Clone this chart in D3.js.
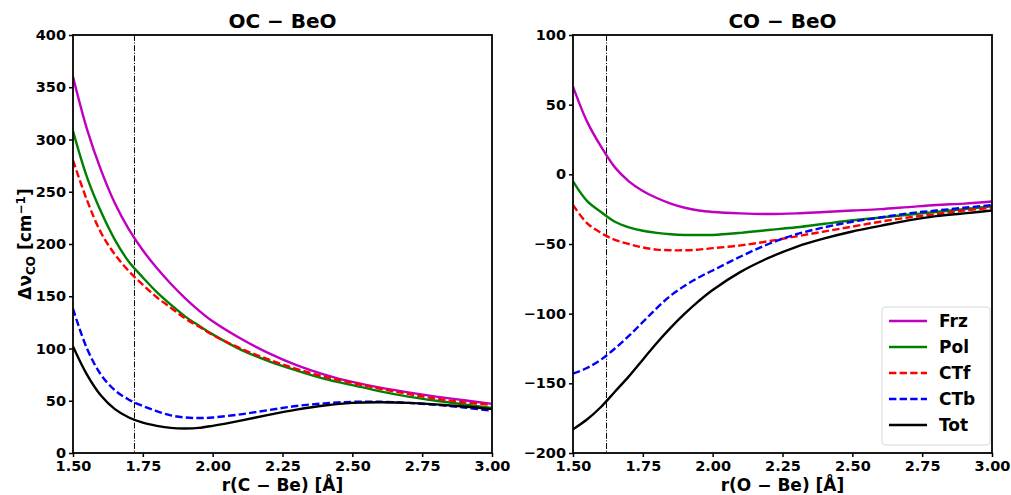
<!DOCTYPE html>
<html>
<head>
<meta charset="utf-8">
<script src="https://cdn.jsdelivr.net/npm/d3@7"></script>
<style>
  body { margin: 0; background: #fff; }
  svg { font-family: "DejaVu Sans", sans-serif; font-weight: bold; }
</style>
</head>
<body>
<svg width="1011" height="495"></svg>
<script>
const rValues = [1.50, 1.55, 1.60, 1.65, 1.70, 1.75, 1.80, 1.85, 1.90, 1.95, 2.00,
  2.10, 2.20, 2.30, 2.40, 2.50, 2.60, 2.70, 2.80, 2.90, 3.00];

// OC-BeO
const ocFrz = [360, 310, 271, 239, 214, 194, 177, 162, 148.5, 136.5, 126, 109.5, 95.5, 84, 75, 68, 62.5, 58, 54, 50.5, 47];
const ocPol = [308, 264, 231, 204, 183, 168, 154, 142, 131, 122, 113.5, 99, 88, 79, 71, 65, 59, 54, 50, 46.5, 43];
const ocCTf = [280, 242, 211, 190, 174, 161, 149, 139, 129, 121, 113, 100, 89.5, 80.5, 73, 67, 61.5, 56.5, 52, 48.5, 46];
const ocCTb = [138, 100, 75, 60, 51, 45, 40, 36, 34, 33.5, 34, 37, 41, 45, 47.5, 49, 49, 48, 46, 43.5, 40.5];
const ocTot = [102, 75, 55, 42, 34, 29, 26, 24, 23.5, 24, 26, 31, 36.5, 41.5, 45.5, 48, 48.5, 48, 46.5, 44.5, 42];

// CO-BeO
const coFrz = [63, 38, 20, 5, -5, -12, -17, -21, -24, -26, -27, -28, -28.5, -28, -27, -26, -25, -23.5, -22, -21, -19.5];
const coPol = [-5, -19, -27, -34, -38, -40.5, -42, -43, -43.5, -43.5, -43.5, -42, -40, -38, -35.5, -33, -31, -29, -27, -25, -23];
const coCTf = [-22, -35, -42, -47, -50, -52.5, -54, -54.5, -54.5, -54, -53, -51, -48, -44.5, -41, -37.5, -34, -31, -28.5, -26, -24];
const coCTb = [-143, -139, -133, -125, -116, -106, -96, -87, -80, -74, -69, -59, -50, -43, -38, -34, -31, -28, -26, -24, -22];
const coTot = [-183, -176, -167, -156, -145, -133, -121, -110, -100, -91, -83, -70, -60, -52, -46, -41, -37, -33, -30, -28, -26];

const seriesNames = ["Frz", "Pol", "CTf", "CTb", "Tot"];
const seriesColors = ["#bf00bf", "#008000", "#ff0000", "#0000ff", "#000000"];
const seriesDashed = [false, false, true, true, false];

const xTicks = [1.50, 1.75, 2.00, 2.25, 2.50, 2.75, 3.00];

const panels = [
  { title: "OC − BeO", xlab: "r(C − Be) [Å]", left: 73, yDomain: [0, 400], yTicks: [0, 50, 100, 150, 200, 250, 300, 350, 400],
    vline: 1.72, data: [ocFrz, ocPol, ocCTf, ocCTb, ocTot], ylabel: true, legend: false },
  { title: "CO − BeO", xlab: "r(O − Be) [Å]", left: 573, yDomain: [-200, 100], yTicks: [-200, -150, -100, -50, 0, 50, 100],
    vline: 1.62, data: [coFrz, coPol, coCTf, coCTb, coTot], ylabel: false, legend: true }
];

const svg = d3.select("svg");
const plotTop = 35, plotBottom = 453, plotW = 419;
const fmtMinus = v => String(v).replace("-", "−");

panels.forEach(p => {
  const x = d3.scaleLinear().domain([1.5, 3.0]).range([p.left, p.left + plotW]);
  const y = d3.scaleLinear().domain(p.yDomain).range([plotBottom, plotTop]);
  const g = svg.append("g");

  const clipId = "clip" + p.left;
  svg.append("clipPath").attr("id", clipId)
    .append("rect").attr("x", p.left).attr("y", plotTop).attr("width", plotW).attr("height", plotBottom - plotTop);

  // vertical reference line
  g.append("line")
    .attr("x1", x(p.vline)).attr("x2", x(p.vline))
    .attr("y1", plotTop).attr("y2", plotBottom)
    .attr("stroke", "#000").attr("stroke-width", 1)
    .attr("stroke-dasharray", "6,1.6,1,1.6");

  const line = d3.line()
    .x((d, i) => x(rValues[i]))
    .y(d => y(d))
    .curve(d3.curveCatmullRom);

  p.data.forEach((vals, k) => {
    g.append("path")
      .attr("clip-path", `url(#${clipId})`)
      .attr("d", line(vals))
      .attr("fill", "none")
      .attr("stroke", seriesColors[k])
      .attr("stroke-width", 2.4)
      .attr("stroke-dasharray", seriesDashed[k] ? "7.4,3.2" : null);
  });

  // axes
  const xAxis = g.append("g").attr("transform", `translate(0,${plotBottom})`)
    .call(d3.axisBottom(x).tickValues(xTicks).tickFormat(d3.format(".2f")).tickSize(4).tickPadding(4));
  const yAxis = g.append("g").attr("transform", `translate(${p.left},0)`)
    .call(d3.axisLeft(y).tickValues(p.yTicks).tickFormat(fmtMinus).tickSize(4).tickPadding(3));
  [xAxis, yAxis].forEach(a => {
    a.selectAll("text").attr("font-size", 14.5).attr("font-weight", "bold")
      .attr("font-family", "DejaVu Sans").attr("fill", "#000");
    a.selectAll("line").attr("stroke", "#000").attr("stroke-width", 1.5);
    a.select(".domain").remove();
  });

  g.append("rect").attr("x", p.left).attr("y", plotTop).attr("width", plotW).attr("height", plotBottom - plotTop)
    .attr("fill", "none").attr("stroke", "#000").attr("stroke-width", 1.8);

  g.append("text").attr("x", p.left + plotW / 2).attr("y", 28)
    .attr("text-anchor", "middle").attr("font-size", 20).text(p.title);

  g.append("text").attr("x", p.left + plotW / 2).attr("y", 491)
    .attr("text-anchor", "middle").attr("font-size", 17).text(p.xlab);

  if (p.ylabel) {
    const t = g.append("text")
      .attr("transform", `translate(31,${(plotTop + plotBottom) / 2}) rotate(-90)`)
      .attr("text-anchor", "middle").attr("font-size", 17);
    t.append("tspan").text("Δν");
    t.append("tspan").attr("font-size", 12).attr("dy", 4).text("CO");
    t.append("tspan").attr("dy", -4).text(" [cm");
    t.append("tspan").attr("font-size", 12).attr("dy", -6).text("−1");
    t.append("tspan").attr("dy", 6).text("]");
  }

  if (p.legend) {
    const lg = g.append("g").attr("transform", "translate(882,307)");
    lg.append("rect").attr("width", 108).attr("height", 138).attr("rx", 3)
      .attr("fill", "#fff").attr("fill-opacity", 0.8).attr("stroke", "#d8d8d8");
    seriesNames.forEach((name, k) => {
      const yy = 14 + k * 26;
      lg.append("line").attr("x1", 7).attr("x2", 45).attr("y1", yy).attr("y2", yy)
        .attr("stroke", seriesColors[k]).attr("stroke-width", 2.4)
        .attr("stroke-dasharray", seriesDashed[k] ? "7.4,3.2" : null);
      lg.append("text").attr("x", 57).attr("y", yy + 6).attr("font-size", 17).text(name);
    });
  }
});
</script>
</body>
</html>
